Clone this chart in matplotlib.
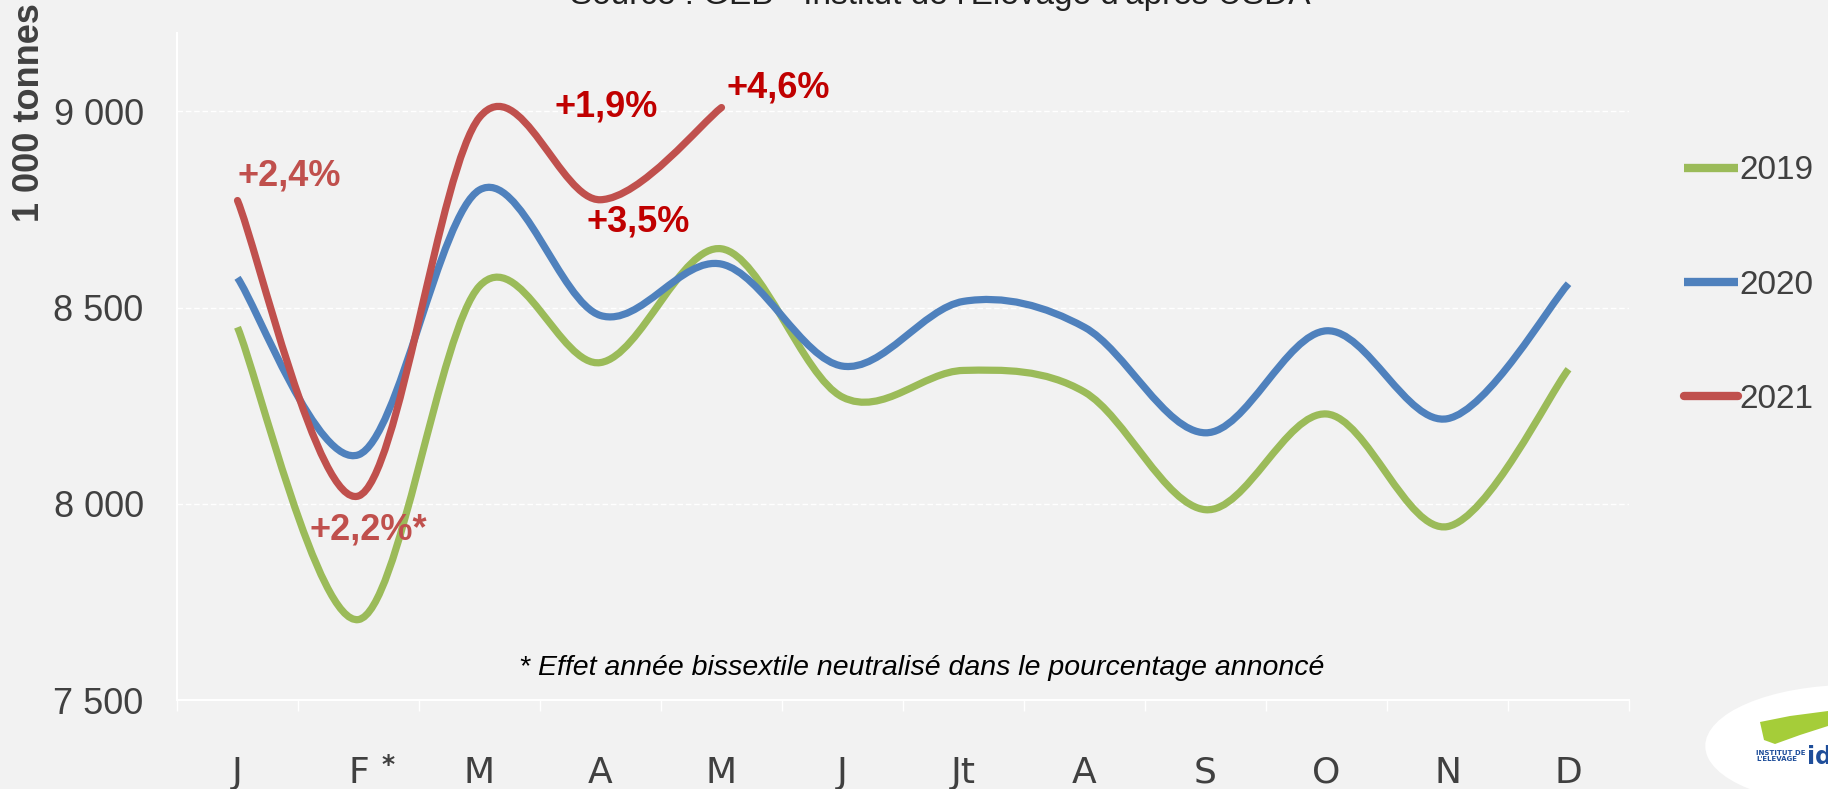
import numpy as np
import matplotlib
matplotlib.use("Agg")
import matplotlib.pyplot as plt
from matplotlib.path import Path
from matplotlib.patches import PathPatch, Ellipse, Polygon
from matplotlib.lines import Line2D

# data (1 000 tonnes)
months = ["J", "F", "M", "A", "M", "J", "Jt", "A", "S", "O", "N", "D"]
prod_2019 = [8450, 7705, 8555, 8360, 8650, 8272, 8340, 8285, 7985, 8229, 7942, 8343]
prod_2020 = [8576, 8125, 8800, 8480, 8611, 8351, 8516, 8450, 8181, 8441, 8217, 8561]
prod_2021 = [8773, 8020, 8985, 8775, 9010]

years = ["2019", "2020", "2021"]
colors = ["#9BBB59", "#4F81BD", "#C0504D"]

# variation labels: text, position (month index, value), colour
var_labels = ["+2,4%", "+2,2%*", "+1,9%", "+3,5%", "+4,6%"]
var_x = [0.43, 1.08, 3.05, 3.31, 4.47]
var_y = [8836, 7933, 9012, 8718, 9060]
var_colors = ["#C0504D", "#C0504D", "#C00000", "#C00000", "#C00000"]

BG = "#F2F2F2"
TXT = "#404040"


def smooth_path(ys):
    # excel-like smoothed line: cubic bezier through the points
    pts = np.column_stack([np.arange(len(ys)), np.asarray(ys, dtype=float)])
    verts = [pts[0]]
    codes = [Path.MOVETO]
    n = len(pts)
    for i in range(n - 1):
        p0 = pts[i - 1] if i > 0 else pts[i]
        p1, p2 = pts[i], pts[i + 1]
        p3 = pts[i + 2] if i + 2 < n else pts[i + 1]
        c1 = p1 + (p2 - p0) / 6.0
        c2 = p2 - (p3 - p1) / 6.0
        verts += [c1, c2, p2]
        codes += [Path.CURVE4] * 3
    return Path(verts, codes)


W, H = 1828, 789
AX_L, AX_R, AX_B, AX_T = 177, 1629, 700, 33
fig = plt.figure(figsize=(W / 100, H / 100), dpi=100, facecolor=BG)
ax = fig.add_axes([AX_L / W, (H - AX_B) / H, (AX_R - AX_L) / W, (AX_B - AX_T) / H])
ax.set_facecolor(BG)

handles = []
for ys, col, yr in zip([prod_2019, prod_2020, prod_2021], colors, years):
    cap = "round" if yr == "2021" else "butt"
    patch = PathPatch(smooth_path(ys), fill=False, edgecolor=col, lw=5.2,
                      capstyle=cap, joinstyle="round", zorder=3)
    ax.add_patch(patch)
    handles.append(Line2D([], [], color=col, lw=6, solid_capstyle=cap, label=yr))

ax.set_xlim(-0.5, 11.5)
ax.set_ylim(7500, 9200)

# axes styling
for side in ["top", "right"]:
    ax.spines[side].set_visible(False)
for side in ["left", "bottom"]:
    ax.spines[side].set_color("white")
    ax.spines[side].set_linewidth(1.5)

ax.set_yticks([7500, 8000, 8500, 9000])
ax.set_yticklabels(["7 500", "8 000", "8 500", "9 000"])
ax.tick_params(axis="y", length=0, pad=24, labelsize=26, labelcolor=TXT)
for lab in ax.get_yticklabels():
    lab.set_family("Liberation Sans")
ax.yaxis.grid(True, color="white", lw=1, ls=(0, (4, 2)))
ax.set_axisbelow(True)

ax.set_xticks(np.arange(-0.5, 12, 1.0))
ax.set_xticklabels([])
ax.tick_params(axis="x", which="major", length=8, width=1, color="white")
ax.set_xticks(np.arange(len(months)), minor=True)
ax.set_xticklabels(months, minor=True)
ax.tick_params(axis="x", which="minor", length=0, pad=40, labelsize=26, labelcolor=TXT)
for lab in ax.get_xticklabels(minor=True):
    lab.set_family(["Liberation Sans Narrow", "DejaVu Sans"])
ax.annotate("*", xy=(1, 7500), xycoords="data", xytext=(21, -47),
            textcoords="offset points", ha="center", va="center",
            fontsize=18, fontweight="bold", color=TXT)

ax.set_ylabel("1 000 tonnes", fontsize=26, fontweight="bold", color=TXT,
              family="Liberation Sans")
ax.yaxis.set_label_coords((47 - AX_L) / (AX_R - AX_L), (AX_B - 113) / (AX_B - AX_T))

# variation annotations
for t, x, y, c in zip(var_labels, var_x, var_y, var_colors):
    ax.text(x, y, t, ha="center", va="center", fontsize=26, fontweight="bold",
            color=c, family="Liberation Sans", zorder=5)

ax.text((922 - AX_L) / (AX_R - AX_L), 0.048,
        "* Effet année bissextile neutralisé dans le pourcentage annoncé",
        transform=ax.transAxes, ha="center", va="center", fontsize=20.5,
        style="italic", color="black", family="Liberation Sans")

# legend
leg = fig.legend(handles=handles, loc="upper left", bbox_to_anchor=(1671 / W, 1 - 142 / H),
                 frameon=False, fontsize=24, handlelength=1.6, handletextpad=0.05,
                 labelspacing=2.5, borderaxespad=0)
for t in leg.get_texts():
    t.set_color(TXT)
    t.set_family("Liberation Sans")

# source line, cut by the top edge
fig.text(940 / W, 1 - 4 / H, "Source : GEB - Institut de l'Elevage d'après USDA",
         ha="center", va="baseline", fontsize=24, color="#202020",
         family="Liberation Sans")

# logo corner
fig.patches.append(Ellipse((1850 / W, 1 - 745 / H), 290 / W, 120 / H, angle=12,
                           transform=fig.transFigure, facecolor="white",
                           edgecolor="none"))
swoosh = [(1760, 722), (1790, 716), (1828, 711), (1828, 726), (1800, 735),
          (1775, 744), (1764, 740)]
fig.patches.append(Polygon([(x / W, 1 - y / H) for x, y in swoosh], closed=True,
                           transform=fig.transFigure, facecolor="#A5CD39",
                           edgecolor="none"))
fig.text(1756 / W, 1 - 756 / H, "INSTITUT DE\nL'ELEVAGE", ha="left", va="center",
         fontsize=5, fontweight="bold", color="#1F4E9A", linespacing=0.9)
fig.text(1807 / W, 1 - 757 / H, "id", ha="left", va="center", fontsize=17,
         fontweight="bold", color="#1F4E9A")

fig.savefig("out.png", dpi=100, facecolor=BG)
